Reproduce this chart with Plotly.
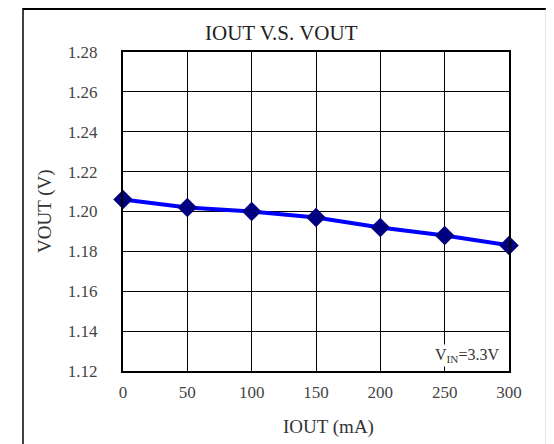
import plotly.graph_objects as go

iout = [0, 50, 100, 150, 200, 250, 300]
vout = [1.206, 1.202, 1.200, 1.197, 1.192, 1.188, 1.183]
x_ticks = [0, 50, 100, 150, 200, 250, 300]
y_ticks = [1.12, 1.14, 1.16, 1.18, 1.20, 1.22, 1.24, 1.26, 1.28]

W, H = 554, 444
OFF = 8  # page body offset
L, R, T, B = 123 - OFF, 509 - OFF, 52 - OFF, 371 - OFF
pw, ph = R - L, B - T

def px(xp):
    return (xp - OFF - L) / pw

def py(yp):
    return (B - (yp - OFF)) / ph

font = "Liberation Serif, Times New Roman, serif"

fig = go.Figure()
fig.add_trace(go.Scatter(
    x=iout, y=vout, mode="lines+markers",
    line=dict(color="#0000FF", width=4),
    marker=dict(symbol="diamond", size=15, color="#000080"),
    cliponaxis=False, showlegend=False,
))

fig.update_layout(
    width=W, height=H,
    margin=dict(l=L, r=W - R, t=T, b=H - B),
    paper_bgcolor="white", plot_bgcolor="white",
    font=dict(family=font, color="#333333", size=17),
    xaxis=dict(range=[0, 300], tickvals=x_ticks, ticktext=[str(v) for v in x_ticks],
               showgrid=True, gridcolor="black", gridwidth=1,
               showline=True, linecolor="black", linewidth=2, mirror=True,
               ticks="", zeroline=False, ticklabelstandoff=5,
               tickfont=dict(family=font, size=17, color="#444444")),
    yaxis=dict(range=[1.12, 1.28], tickvals=y_ticks, ticktext=[f"{v:.2f}" for v in y_ticks],
               showgrid=True, gridcolor="black", gridwidth=1,
               showline=True, linecolor="black", linewidth=2, mirror=True,
               ticks="", zeroline=False, ticklabelstandoff=20,
               tickfont=dict(family=font, size=17, color="#444444")),
    shapes=[
        dict(type="line", xref="paper", yref="paper", x0=px(23), x1=px(546), y0=py(9), y1=py(9),
             line=dict(color="black", width=2)),
        dict(type="line", xref="paper", yref="paper", x0=px(23), x1=px(23), y0=py(8), y1=py(460),
             line=dict(color="black", width=1.5)),
        dict(type="line", xref="paper", yref="paper", x0=px(546), x1=px(546), y0=py(9), y1=py(460),
             line=dict(color="#cccccc", width=1)),
    ],
    annotations=[
        dict(text="IOUT V.S. VOUT", xref="paper", yref="paper", x=px(281), y=py(33),
             showarrow=False, xanchor="center", yanchor="middle",
             font=dict(family=font, size=21, color="#222222")),
        dict(text="VOUT (V)", xref="paper", yref="paper", x=px(45), y=py(211),
             showarrow=False, xanchor="center", yanchor="middle", textangle=-90,
             font=dict(family=font, size=19, color="#333333")),
        dict(text="IOUT (mA)", xref="paper", yref="paper", x=px(328), y=py(427),
             showarrow=False, xanchor="center", yanchor="middle",
             font=dict(family=font, size=19, color="#333333")),
        dict(text="V<sub>IN</sub>=3.3V", xref="paper", yref="paper", x=px(501), y=py(355),
             showarrow=False, xanchor="right", yanchor="middle", bgcolor="white",
             font=dict(family=font, size=16, color="#333333")),
    ],
)

fig.write_html("out.html")
